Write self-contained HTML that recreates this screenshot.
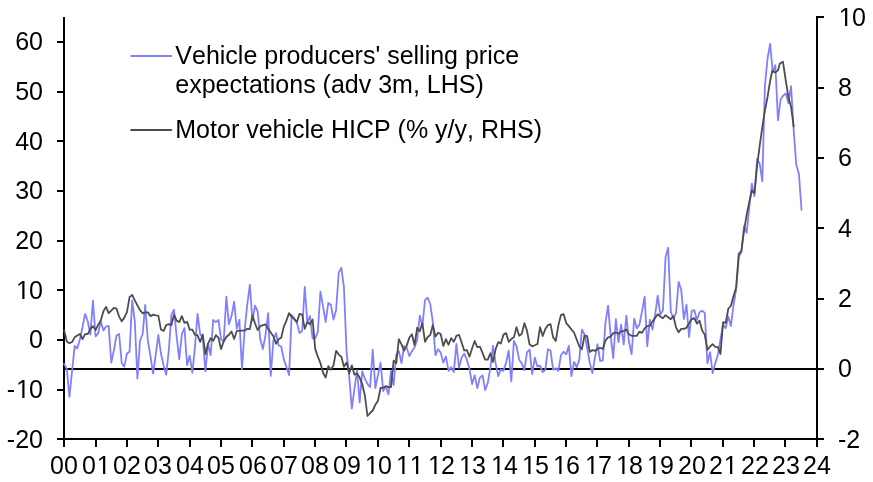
<!DOCTYPE html>
<html lang="en">
<head>
<meta charset="utf-8">
<title>Vehicle producers' selling price expectations and motor vehicle HICP</title>
<style>
html,body{margin:0;padding:0;background:#fff;}
body{width:873px;height:482px;overflow:hidden;}
svg{display:block;}
text{font-family:"Liberation Sans",sans-serif;font-size:25px;fill:#000;font-kerning:none;}
.ax{stroke:#000;stroke-width:2;fill:none;stroke-linecap:butt;}
.s1{stroke:#8080ff;stroke-width:1.8;fill:none;stroke-linejoin:round;stroke-linecap:round;}
.s2{stroke:#4d4d4d;stroke-width:1.8;fill:none;stroke-linejoin:round;stroke-linecap:round;}
</style>
</head>
<body>
<svg width="873" height="482" viewBox="0 0 873 482">
<rect x="0" y="0" width="873" height="482" fill="#ffffff"/>
<line class="ax" x1="64" y1="369" x2="824" y2="369"/>
<line class="ax" x1="64" y1="17" x2="64" y2="447"/>
<line class="ax" x1="817" y1="16" x2="817" y2="447"/>
<line class="ax" x1="57" y1="439" x2="824" y2="439"/>
<text class="n" x="6.86" y="448">-20</text>
<line class="ax" x1="57" y1="390" x2="64" y2="390"/><text class="n" x="6.86" y="398" dx="0 0.8 -0.8">-10</text>
<line class="ax" x1="57" y1="340" x2="64" y2="340"/><text class="n" x="29.09" y="348">0</text>
<line class="ax" x1="57" y1="290" x2="64" y2="290"/><text class="n" x="15.19" y="299" dx="0.8 -0.8">10</text>
<line class="ax" x1="57" y1="241" x2="64" y2="241"/><text class="n" x="15.19" y="249">20</text>
<line class="ax" x1="57" y1="191" x2="64" y2="191"/><text class="n" x="15.19" y="199">30</text>
<line class="ax" x1="57" y1="141" x2="64" y2="141"/><text class="n" x="15.19" y="150">40</text>
<line class="ax" x1="57" y1="92" x2="64" y2="92"/><text class="n" x="15.19" y="100">50</text>
<line class="ax" x1="57" y1="42" x2="64" y2="42"/><text class="n" x="15.19" y="50">60</text>
<text class="n" x="838.00" y="448">-2</text>
<line class="ax" x1="817" y1="369" x2="824" y2="369"/><text class="n" x="838.00" y="377">0</text>
<line class="ax" x1="817" y1="299" x2="824" y2="299"/><text class="n" x="838.00" y="307">2</text>
<line class="ax" x1="817" y1="228" x2="824" y2="228"/><text class="n" x="838.00" y="237">4</text>
<line class="ax" x1="817" y1="158" x2="824" y2="158"/><text class="n" x="838.00" y="166">6</text>
<line class="ax" x1="817" y1="88" x2="824" y2="88"/><text class="n" x="838.00" y="96">8</text>
<line class="ax" x1="817" y1="17" x2="824" y2="17"/><text class="n" x="838.00" y="26" dx="0.8 -0.8">10</text>
<text class="n" x="50.09" y="474">00</text>
<line class="ax" x1="96" y1="439" x2="96" y2="447"/><text class="n" x="82.09" y="474" dx="0 0.8">01</text>
<line class="ax" x1="127" y1="439" x2="127" y2="447"/><text class="n" x="113.09" y="474">02</text>
<line class="ax" x1="158" y1="439" x2="158" y2="447"/><text class="n" x="144.09" y="474">03</text>
<line class="ax" x1="190" y1="439" x2="190" y2="447"/><text class="n" x="176.09" y="474">04</text>
<line class="ax" x1="221" y1="439" x2="221" y2="447"/><text class="n" x="207.09" y="474">05</text>
<line class="ax" x1="252" y1="439" x2="252" y2="447"/><text class="n" x="239.09" y="474">06</text>
<line class="ax" x1="284" y1="439" x2="284" y2="447"/><text class="n" x="270.09" y="474">07</text>
<line class="ax" x1="315" y1="439" x2="315" y2="447"/><text class="n" x="301.09" y="474">08</text>
<line class="ax" x1="346" y1="439" x2="346" y2="447"/><text class="n" x="333.09" y="474">09</text>
<line class="ax" x1="378" y1="439" x2="378" y2="447"/><text class="n" x="364.09" y="474" dx="0.8 -0.8">10</text>
<line class="ax" x1="409" y1="439" x2="409" y2="447"/><text class="n" x="395.09" y="474" dx="0.8 0">11</text>
<line class="ax" x1="441" y1="439" x2="441" y2="447"/><text class="n" x="427.09" y="474" dx="0.8 -0.8">12</text>
<line class="ax" x1="472" y1="439" x2="472" y2="447"/><text class="n" x="458.09" y="474" dx="0.8 -0.8">13</text>
<line class="ax" x1="503" y1="439" x2="503" y2="447"/><text class="n" x="490.09" y="474" dx="0.8 -0.8">14</text>
<line class="ax" x1="535" y1="439" x2="535" y2="447"/><text class="n" x="521.09" y="474" dx="0.8 -0.8">15</text>
<line class="ax" x1="566" y1="439" x2="566" y2="447"/><text class="n" x="552.09" y="474" dx="0.8 -0.8">16</text>
<line class="ax" x1="597" y1="439" x2="597" y2="447"/><text class="n" x="584.09" y="474" dx="0.8 -0.8">17</text>
<line class="ax" x1="629" y1="439" x2="629" y2="447"/><text class="n" x="615.09" y="474" dx="0.8 -0.8">18</text>
<line class="ax" x1="660" y1="439" x2="660" y2="447"/><text class="n" x="646.09" y="474" dx="0.8 -0.8">19</text>
<line class="ax" x1="691" y1="439" x2="691" y2="447"/><text class="n" x="678.09" y="474">20</text>
<line class="ax" x1="723" y1="439" x2="723" y2="447"/><text class="n" x="709.09" y="474" dx="0 0.8">21</text>
<line class="ax" x1="754" y1="439" x2="754" y2="447"/><text class="n" x="741.09" y="474">22</text>
<line class="ax" x1="785" y1="439" x2="785" y2="447"/><text class="n" x="772.09" y="474">23</text>
<text class="n" x="803.09" y="474">24</text>
<polyline class="s1" points="64.20,363.90 66.81,369.10 69.43,396.80 72.04,371.40 74.66,346.00 77.27,348.50 79.89,339.30 82.50,327.30 85.12,313.90 87.73,321.30 90.35,334.50 92.96,300.70 95.58,336.30 98.19,333.30 100.80,321.30 103.42,330.60 106.03,326.60 108.65,325.80 111.26,362.70 113.88,350.50 116.49,335.50 119.11,334.00 121.72,363.20 124.34,366.60 126.95,353.50 129.56,351.70 132.18,300.40 134.79,321.30 137.41,378.60 140.02,340.80 142.64,334.00 145.25,304.90 147.87,340.80 150.48,356.40 153.10,373.60 155.71,355.00 158.33,334.80 160.94,353.50 163.55,365.40 166.17,374.70 168.78,350.50 171.40,314.60 174.01,309.80 176.63,336.30 179.24,359.40 181.86,334.00 184.47,328.00 187.09,365.20 189.70,355.70 192.32,372.90 194.93,347.50 197.54,313.90 200.16,334.00 202.77,337.80 205.39,371.40 208.00,343.80 210.62,355.00 213.23,319.90 215.85,322.10 218.46,319.90 221.08,339.30 223.69,341.50 226.31,296.70 228.92,324.30 231.53,316.10 234.15,301.60 236.76,328.80 239.38,319.90 241.99,369.10 244.61,330.30 247.22,304.90 249.84,284.70 252.45,320.60 255.07,305.70 257.68,311.60 260.30,339.30 262.91,349.00 265.52,334.80 268.14,313.10 270.75,375.90 273.37,340.80 275.98,333.00 278.60,345.50 281.21,346.50 283.83,359.40 286.44,366.90 289.06,375.10 291.67,315.10 294.28,318.40 296.90,322.80 299.51,333.00 302.13,331.00 304.74,286.80 307.36,322.80 309.97,316.00 312.59,338.40 315.20,338.40 317.82,332.00 320.43,291.70 323.05,306.30 325.66,322.00 328.27,303.00 330.89,304.80 333.50,319.50 336.12,310.00 338.73,272.70 341.35,267.80 343.96,287.70 346.58,351.90 349.19,376.40 351.81,408.60 354.42,389.10 357.04,370.20 359.65,402.60 362.26,371.20 364.88,378.70 367.49,383.90 370.11,387.20 372.72,349.70 375.34,388.10 377.95,375.00 380.57,362.70 383.18,391.10 385.80,386.20 388.41,394.40 391.02,371.20 393.64,385.00 396.25,354.90 398.87,351.10 401.48,363.10 404.10,345.90 406.71,347.70 409.33,356.10 411.94,351.10 414.56,347.40 417.17,339.90 419.79,315.60 422.40,325.80 425.01,300.20 427.63,297.70 430.24,304.00 432.86,322.40 435.47,355.18 438.09,349.20 440.70,352.64 443.32,362.65 445.93,356.67 448.55,370.87 451.16,367.14 453.78,372.07 456.39,343.97 459.00,367.88 461.62,357.42 464.23,353.68 466.85,359.66 469.46,368.63 472.08,384.03 474.69,375.36 477.31,388.06 479.92,377.60 482.54,375.36 485.15,390.01 487.77,382.83 490.38,367.88 492.99,345.76 495.61,363.40 498.22,376.11 500.84,369.38 503.45,370.87 506.07,362.65 508.68,350.70 511.30,381.34 513.91,340.98 516.53,346.21 519.14,359.66 521.75,363.40 524.37,370.13 526.98,352.19 529.60,349.65 532.21,374.16 534.83,357.72 537.44,366.69 540.06,365.64 542.67,372.07 545.29,370.13 547.90,349.20 550.52,350.70 553.13,369.68 555.74,368.18 558.36,370.87 560.97,355.18 563.59,351.74 566.20,354.43 568.82,345.76 571.43,376.11 574.05,361.91 576.66,367.14 579.28,359.66 581.89,329.54 584.51,334.33 587.12,347.71 589.73,362.65 592.35,373.12 594.96,357.42 597.58,344.27 600.19,361.16 602.81,360.41 605.42,323.12 608.04,305.63 610.65,335.82 613.27,358.17 615.88,319.08 618.50,342.10 621.11,324.61 623.72,344.49 626.34,315.64 628.95,341.80 631.57,354.43 634.18,318.63 636.80,328.35 639.41,324.61 642.03,311.16 644.64,296.66 647.26,346.29 649.87,319.68 652.49,329.54 655.10,314.90 657.71,295.76 660.33,314.90 662.94,310.41 665.56,257.19 668.17,247.77 670.79,311.73 673.40,318.45 676.02,313.22 678.63,281.85 681.25,290.07 683.86,319.20 686.47,304.57 689.09,337.14 691.70,310.98 694.32,310.23 696.93,319.95 699.55,312.17 702.16,310.68 704.78,313.22 707.39,363.30 710.01,352.09 712.62,373.01 715.24,363.30 717.85,355.07 720.46,339.38 723.08,324.43 725.69,328.17 728.31,316.66 730.92,325.93 733.54,305.00 736.15,289.30 738.77,257.00 741.38,252.00 744.00,226.00 746.61,233.00 749.23,208.00 751.84,183.60 754.45,196.30 757.07,159.00 759.68,163.50 762.30,181.40 764.91,86.00 767.53,58.50 770.14,44.00 772.76,72.50 775.37,65.30 777.99,120.40 780.60,99.50 783.22,95.60 785.83,93.40 788.44,103.20 791.06,86.20 793.67,130.10 796.29,164.80 798.90,173.90 801.52,209.80"/>
<polyline class="s2" points="64.20,330.32 66.81,341.53 69.43,343.17 72.04,341.98 74.66,337.34 77.27,335.55 79.89,334.05 82.50,338.99 85.12,334.05 87.73,334.05 90.35,329.12 92.96,326.13 95.58,330.02 98.19,324.64 100.80,320.60 103.42,311.18 106.03,306.85 108.65,313.13 111.26,310.59 113.88,307.90 116.49,308.64 119.11,316.57 121.72,321.35 124.34,317.61 126.95,312.08 129.56,297.13 132.18,294.89 134.79,300.42 137.41,305.35 140.02,310.14 142.64,313.28 145.25,312.38 147.87,312.38 150.48,316.12 153.10,314.62 155.71,315.37 158.33,315.67 160.94,329.57 163.55,331.06 166.17,325.09 168.78,324.04 171.40,325.09 174.01,314.62 176.63,320.60 179.24,322.10 181.86,316.12 184.47,322.84 187.09,321.80 189.70,329.72 192.32,329.57 194.93,334.80 197.54,335.10 200.16,341.98 202.77,334.50 205.39,354.20 208.00,343.77 210.62,338.09 213.23,340.78 215.85,335.10 218.46,337.79 221.08,349.00 223.69,341.53 226.31,337.04 228.92,334.80 231.53,331.51 234.15,338.99 236.76,331.06 239.38,330.62 241.99,330.62 244.61,330.62 247.22,328.82 249.84,329.12 252.45,315.37 255.07,323.59 257.68,330.02 260.30,326.13 262.91,325.09 265.52,324.34 268.14,328.82 270.75,332.56 273.37,336.30 275.98,343.77 278.60,339.29 281.21,337.79 283.83,326.58 286.44,320.60 289.06,313.13 291.67,316.86 294.28,319.11 296.90,322.10 299.51,313.87 302.13,314.62 304.74,328.80 307.36,322.00 309.97,324.30 312.59,319.50 315.20,348.90 317.82,356.70 320.43,363.10 323.05,372.80 325.66,377.60 328.27,366.10 330.89,369.80 333.50,365.30 336.12,350.80 338.73,354.60 341.35,356.70 343.96,366.80 346.58,362.40 349.19,373.60 351.81,365.30 354.42,374.60 357.04,373.60 359.65,377.60 362.26,384.30 364.88,395.50 367.49,416.00 370.11,413.00 372.72,410.50 375.34,404.80 377.95,400.70 380.57,388.00 383.18,387.60 385.80,386.20 388.41,387.10 391.02,387.10 393.64,360.60 396.25,363.10 398.87,339.20 401.48,344.40 404.10,350.70 406.71,345.60 409.33,337.70 411.94,334.30 414.56,345.20 417.17,327.70 419.79,331.30 422.40,323.12 425.01,341.80 427.63,337.02 430.24,335.07 432.86,325.06 435.47,336.57 438.09,332.83 440.70,334.03 443.32,345.99 445.93,339.11 448.55,344.79 451.16,338.06 453.78,341.80 456.39,335.82 459.00,334.78 461.62,342.55 464.23,350.47 466.85,350.02 469.46,356.67 472.08,348.53 474.69,341.05 477.31,347.03 479.92,346.58 482.54,352.94 485.15,359.66 487.77,359.66 490.38,353.24 492.99,361.91 495.61,349.28 498.22,342.10 500.84,343.59 503.45,334.63 506.07,333.13 508.68,341.80 511.30,339.11 513.91,337.32 516.53,327.15 519.14,335.82 521.75,334.03 524.37,323.12 526.98,330.59 529.60,344.49 532.21,346.29 534.83,345.24 537.44,344.04 540.06,327.15 542.67,336.12 545.29,329.10 547.90,325.06 550.52,324.16 553.13,337.32 555.74,341.05 558.36,325.36 560.97,314.90 563.59,314.15 566.20,323.12 568.82,326.11 571.43,329.54 574.05,332.53 576.66,339.56 579.28,346.29 581.89,349.28 584.51,335.52 587.12,336.12 589.73,351.97 592.35,350.02 594.96,350.77 597.58,348.98 600.19,347.78 602.81,348.98 605.42,340.61 608.04,337.32 610.65,336.57 613.27,333.13 615.88,332.53 618.50,333.58 621.11,331.34 623.72,331.04 626.34,329.54 628.95,334.33 631.57,335.82 634.18,335.82 636.80,335.82 639.41,331.64 642.03,332.83 644.64,328.35 647.26,326.11 649.87,325.66 652.49,321.62 655.10,317.88 657.71,314.27 660.33,316.66 662.94,318.15 665.56,315.16 668.17,317.26 670.79,319.20 673.40,316.21 676.02,327.42 678.63,332.20 681.25,328.92 683.86,328.92 686.47,327.72 689.09,323.24 691.70,319.20 694.32,318.15 696.93,323.68 699.55,320.70 702.16,330.41 704.78,334.90 707.39,349.84 710.01,346.55 712.62,344.16 715.24,346.85 717.85,347.15 720.46,354.03 723.08,322.19 725.69,322.94 728.31,308.74 730.92,305.77 733.54,296.05 736.15,287.53 738.77,253.80 741.38,250.80 744.00,230.90 746.61,215.20 749.23,202.30 751.84,190.70 754.45,193.00 757.07,166.20 759.68,145.80 762.30,127.10 764.91,110.70 767.53,97.00 770.14,80.80 772.26,70.70 775.17,72.60 777.99,70.40 779.90,63.60 782.92,61.70 785.83,80.80 788.44,97.30 791.06,107.00 793.67,126.40"/>
<line x1="131.2" y1="56" x2="171.2" y2="56" stroke="#8080ff" stroke-width="2" stroke-linecap="round"/>
<text x="175.3" y="64">Vehicle producers' selling price</text>
<text x="175.3" y="93">expectations (adv 3m, LHS)</text>
<line x1="131.2" y1="130" x2="171.2" y2="130" stroke="#4d4d4d" stroke-width="2" stroke-linecap="round"/>
<text x="175.3" y="138">Motor vehicle HICP (% y/y, RHS)</text>
<g fill="#ffffff" aria-hidden="true">
<rect x="16.50" y="396" width="5.80" height="2"/>
<rect x="24.49" y="396" width="5.01" height="2"/>
<rect x="16.50" y="297" width="5.80" height="2"/>
<rect x="24.49" y="297" width="5.01" height="2"/>
<rect x="839.50" y="24" width="5.54" height="2"/>
<rect x="847.25" y="24" width="5.25" height="2"/>
<rect x="97.50" y="472" width="5.54" height="2"/>
<rect x="105.25" y="472" width="5.25" height="2"/>
<rect x="365.50" y="472" width="5.80" height="2"/>
<rect x="373.49" y="472" width="5.01" height="2"/>
<rect x="396.50" y="472" width="5.80" height="2"/>
<rect x="404.49" y="472" width="5.01" height="2"/>
<rect x="410.50" y="472" width="5.54" height="2"/>
<rect x="418.25" y="472" width="5.25" height="2"/>
<rect x="428.50" y="472" width="5.80" height="2"/>
<rect x="436.49" y="472" width="5.01" height="2"/>
<rect x="459.50" y="472" width="5.80" height="2"/>
<rect x="467.49" y="472" width="5.01" height="2"/>
<rect x="491.50" y="472" width="5.80" height="2"/>
<rect x="499.49" y="472" width="5.01" height="2"/>
<rect x="522.50" y="472" width="5.80" height="2"/>
<rect x="530.49" y="472" width="5.01" height="2"/>
<rect x="553.50" y="472" width="5.80" height="2"/>
<rect x="561.49" y="472" width="5.01" height="2"/>
<rect x="585.50" y="472" width="5.80" height="2"/>
<rect x="593.49" y="472" width="5.01" height="2"/>
<rect x="616.50" y="472" width="5.80" height="2"/>
<rect x="624.49" y="472" width="5.01" height="2"/>
<rect x="647.50" y="472" width="5.80" height="2"/>
<rect x="655.49" y="472" width="5.01" height="2"/>
<rect x="724.50" y="472" width="5.54" height="2"/>
<rect x="732.25" y="472" width="5.25" height="2"/>
</g>
</svg>
</body>
</html>
